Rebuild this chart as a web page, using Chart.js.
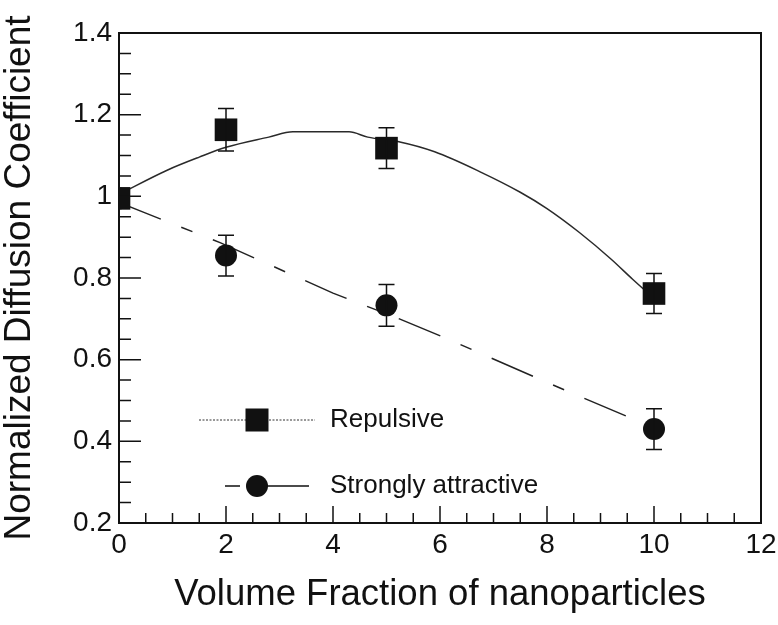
<!DOCTYPE html>
<html>
<head>
<meta charset="utf-8">
<script src="https://cdn.jsdelivr.net/npm/chart.js@4.4.1/dist/chart.umd.min.js"></script>
<style>
html, body { margin: 0; padding: 0; background: #ffffff; }
canvas { display: block; }
</style>
</head>
<body>
<canvas id="chart" width="778" height="625"></canvas>
<script>
// measured points (volume fraction %, normalized D)
const volumeFractions = [0, 2, 5, 10];
const repulsive = [0.995, 1.163, 1.118, 0.762];
const repulsiveErr = [0, 0.052, 0.05, 0.049];
const attractive = [0.995, 0.855, 0.733, 0.43];
const attractiveErr = [0, 0.05, 0.051, 0.05];

// fit curves
const repulsiveFitX = [0, 0.9, 1.5, 2, 2.8, 3.25, 4.3, 4.65, 5.25, 5.9, 6.75, 7.5, 8, 8.6, 9.2, 9.6, 10];
const repulsiveFitY = [1.005, 1.064, 1.096, 1.12, 1.145, 1.158, 1.158, 1.145, 1.133, 1.109, 1.06, 1.01, 0.97, 0.912, 0.846, 0.797, 0.75];
const attractiveFitX = [0, 0.5, 1.9, 4, 5.2, 6.1, 8.2, 10];
const attractiveFitY = [0.985, 0.959, 0.886, 0.763, 0.702, 0.653, 0.533, 0.433];

const xTicks = [0, 2, 4, 6, 8, 10, 12];
const yTicks = [0.2, 0.4, 0.6, 0.8, 1.0, 1.2, 1.4];

const seriesNames = ['Repulsive', 'Strongly attractive'];
const xTitle = 'Volume Fraction of nanoparticles';
const yTitle = 'Normalized Diffusion Coefficient';

const FONT = "'Liberation Sans', Arial, sans-serif";
const INK = '#111111';

function pts(xs, ys) {
    return xs.map((x, i) => ({ x: x, y: ys[i] }));
}

// frame, inward ticks, error bars and the legend inside the plot
const decorations = {
    id: 'decorations',
    afterDatasetsDraw(chart) {
        const ctx = chart.ctx;
        const xs = chart.scales.x;
        const ys = chart.scales.y;
        const errs = [repulsiveErr, attractiveErr];
        const vals = [repulsive, attractive];
        ctx.save();
        ctx.strokeStyle = INK;
        ctx.lineWidth = 1.5;
        for (let s = 0; s < 2; s++) {
            for (let i = 0; i < volumeFractions.length; i++) {
                if (!errs[s][i]) continue;
                const px = xs.getPixelForValue(volumeFractions[i]);
                const top = ys.getPixelForValue(vals[s][i] + errs[s][i]);
                const bot = ys.getPixelForValue(vals[s][i] - errs[s][i]);
                ctx.beginPath();
                ctx.moveTo(px, top); ctx.lineTo(px, bot);
                ctx.moveTo(px - 8, top); ctx.lineTo(px + 8, top);
                ctx.moveTo(px - 8, bot); ctx.lineTo(px + 8, bot);
                ctx.stroke();
            }
        }
        ctx.restore();
    },
    afterDraw(chart) {
        const ctx = chart.ctx;
        const a = chart.chartArea;
        const xs = chart.scales.x;
        const ys = chart.scales.y;
        ctx.save();
        ctx.strokeStyle = INK;
        ctx.lineWidth = 2;
        ctx.strokeRect(a.left, a.top, a.right - a.left, a.bottom - a.top);

        // inward ticks, 3 minor between majors
        ctx.lineWidth = 1.5;
        ctx.beginPath();
        for (let i = 0; i < xTicks.length; i++) {
            const px = xs.getPixelForValue(xTicks[i]);
            if (i > 0 && i < xTicks.length - 1) {
                ctx.moveTo(px, a.bottom); ctx.lineTo(px, a.bottom - 17);
            }
            if (i < xTicks.length - 1) {
                for (let k = 1; k < 4; k++) {
                    const mx = xs.getPixelForValue(xTicks[i] + (xTicks[i + 1] - xTicks[i]) * k / 4);
                    ctx.moveTo(mx, a.bottom); ctx.lineTo(mx, a.bottom - 10);
                }
            }
        }
        for (let i = 0; i < yTicks.length; i++) {
            const py = ys.getPixelForValue(yTicks[i]);
            if (i > 0 && i < yTicks.length - 1) {
                ctx.moveTo(a.left, py); ctx.lineTo(a.left + 22, py);
            }
            if (i < yTicks.length - 1) {
                for (let k = 1; k < 4; k++) {
                    const my = ys.getPixelForValue(yTicks[i] + (yTicks[i + 1] - yTicks[i]) * k / 4);
                    ctx.moveTo(a.left, my); ctx.lineTo(a.left + 12, my);
                }
            }
        }
        ctx.stroke();

        // legend
        const lx = a.left + 138;
        const ly1 = a.bottom - 103;
        const ly2 = a.bottom - 37;
        ctx.lineWidth = 1;
        ctx.setLineDash([2, 1.5]);
        ctx.strokeStyle = '#333333';
        ctx.beginPath();
        ctx.moveTo(lx - 58, ly1); ctx.lineTo(lx + 58, ly1);
        ctx.stroke();
        ctx.setLineDash([]);
        ctx.strokeStyle = INK;
        ctx.lineWidth = 1.5;
        ctx.beginPath();
        ctx.moveTo(lx - 32, ly2); ctx.lineTo(lx - 17, ly2);
        ctx.moveTo(lx + 10, ly2); ctx.lineTo(lx + 52, ly2);
        ctx.stroke();
        ctx.fillStyle = INK;
        ctx.fillRect(lx - 11.5, ly1 - 11.5, 23, 23);
        ctx.beginPath();
        ctx.arc(lx, ly2, 11, 0, Math.PI * 2);
        ctx.fill();
        ctx.font = '26px ' + FONT;
        ctx.textBaseline = 'middle';
        ctx.textAlign = 'left';
        ctx.fillText(seriesNames[0], lx + 73, ly1);
        ctx.fillText(seriesNames[1], lx + 73, ly2);
        ctx.restore();
    }
};

new Chart(document.getElementById('chart'), {
    type: 'scatter',
    data: {
        datasets: [
            {
                label: seriesNames[0],
                data: pts(volumeFractions, repulsive),
                pointStyle: 'rect',
                pointRadius: 16,
                backgroundColor: INK,
                borderColor: INK,
                borderWidth: 0,
                showLine: false,
                order: 0
            },
            {
                label: seriesNames[1],
                data: pts(volumeFractions, attractive),
                pointStyle: 'circle',
                pointRadius: 11,
                backgroundColor: INK,
                borderColor: INK,
                borderWidth: 0,
                showLine: false,
                order: 1
            },
            {
                label: 'Repulsive fit',
                data: pts(repulsiveFitX, repulsiveFitY),
                showLine: true,
                pointRadius: 0,
                borderColor: '#2a2a2a',
                borderWidth: 1.5,
                cubicInterpolationMode: 'monotone',
                order: 2
            },
            {
                label: 'Attractive fit',
                data: pts(attractiveFitX, attractiveFitY),
                showLine: true,
                pointRadius: 0,
                borderColor: '#222222',
                borderWidth: 1.5,
                borderDash: [45, 22, 12, 22],
                order: 3
            }
        ]
    },
    options: {
        responsive: false,
        animation: false,
        layout: { padding: { top: 33, right: 17, left: 0, bottom: 0 } },
        plugins: {
            legend: { display: false },
            tooltip: { enabled: false }
        },
        scales: {
            x: {
                type: 'linear',
                min: 0,
                max: 12,
                afterBuildTicks: (s) => { s.ticks = xTicks.map(v => ({ value: v })); },
                afterFit: (s) => { s.height = 102; s.paddingLeft = 0; s.paddingRight = 0; },
                grid: { display: false, drawTicks: false },
                border: { display: false },
                ticks: {
                    padding: 5,
                    color: INK,
                    font: { family: FONT, size: 28 },
                    maxRotation: 0,
                    callback: (v) => String(v)
                },
                title: {
                    display: true,
                    text: xTitle,
                    color: INK,
                    font: { family: FONT, size: 36.5 },
                    padding: { top: 0, bottom: 8 }
                }
            },
            y: {
                type: 'linear',
                min: 0.2,
                max: 1.4,
                afterBuildTicks: (s) => { s.ticks = yTicks.map(v => ({ value: v })); },
                afterFit: (s) => { s.width = 119; s.paddingTop = 0; s.paddingBottom = 0; },
                grid: { display: false, drawTicks: false },
                border: { display: false },
                ticks: {
                    padding: 7,
                    color: INK,
                    font: { family: FONT, size: 28 },
                    callback: (v) => String(+v.toFixed(1))
                },
                title: {
                    display: true,
                    text: yTitle,
                    color: INK,
                    font: { family: FONT, size: 37 },
                    padding: { top: -2, bottom: 0 }
                }
            }
        }
    },
    plugins: [decorations]
});
</script>
</body>
</html>
